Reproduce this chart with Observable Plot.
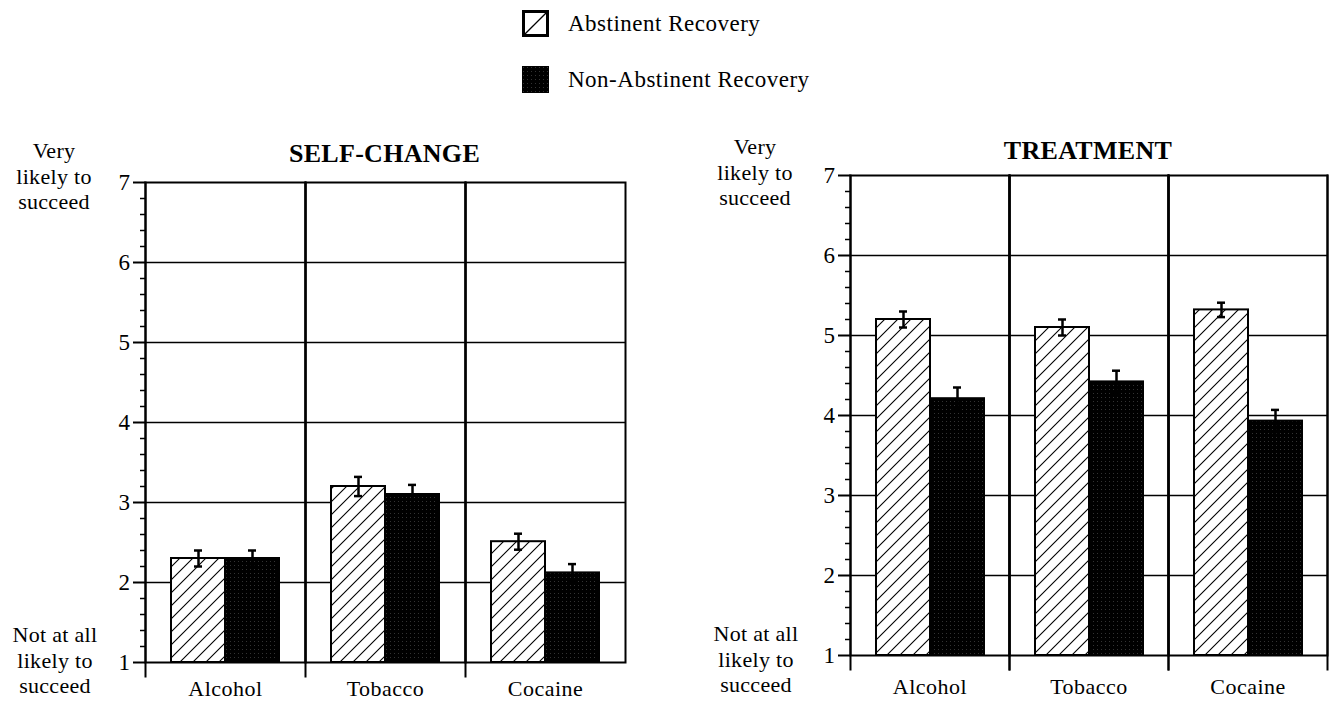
<!DOCTYPE html>
<html><head><meta charset="utf-8">
<script src="https://cdn.jsdelivr.net/npm/d3@7"></script>
<script src="https://cdn.jsdelivr.net/npm/@observablehq/plot@0.6"></script>
<style>
body{margin:0;background:#fff;width:1330px;height:702px;position:relative;overflow:hidden;font-family:"Liberation Serif","Times New Roman",serif;color:#000}
.abs{position:absolute}
.side{position:absolute;width:120px;text-align:center;font-size:22px;line-height:25.5px;letter-spacing:0.3px}
.title{position:absolute;font-size:26px;font-weight:bold;line-height:26px;text-align:center;width:400px;letter-spacing:0.3px}
.legtext{position:absolute;left:568px;font-size:23px;letter-spacing:0.5px;line-height:23px;white-space:nowrap}
</style></head><body>
<svg width="0" height="0" style="position:absolute"><defs>
<pattern id="hatch" patternUnits="userSpaceOnUse" width="13" height="13">
 <rect width="13" height="13" fill="#fff"/>
 <path d="M-2,2 L2,-2 M0,13 L13,0 M11,15 L15,11" stroke="#000" stroke-width="1.1"/>
</pattern>
<pattern id="stipple" patternUnits="userSpaceOnUse" width="4" height="4">
 <rect width="4" height="4" fill="#000"/><rect x="1" y="1" width="1" height="1" fill="#333"/>
</pattern>
<pattern id="hatchLegend" patternUnits="userSpaceOnUse" width="27" height="27">
 <rect width="27" height="27" fill="#fff"/>
 <path d="M0,27 L27,0" stroke="#000" stroke-width="1.3"/>
</pattern>
</defs></svg>

<div id="legend"></div>
<div id="left" class="abs" style="left:0;top:100px"></div>
<div id="right" class="abs" style="left:700px;top:100px"></div>

<div class="title" style="left:184.5px;top:141px">SELF-CHANGE</div>
<div class="title" style="left:888px;top:138px">TREATMENT</div>

<div class="side" style="left:-6px;top:138px">Very<br>likely to<br>succeed</div>
<div class="side" style="left:-5px;top:622px">Not at all<br>likely to<br>succeed</div>
<div class="side" style="left:695px;top:134px">Very<br>likely to<br>succeed</div>
<div class="side" style="left:696px;top:621px">Not at all<br>likely to<br>succeed</div>

<script>
// ---- data ----
const categories = ["Alcohol", "Tobacco", "Cocaine"];
const groups = ["Abstinent Recovery", "Non-Abstinent Recovery"];
const yTicks = [1, 2, 3, 4, 5, 6, 7];
const gridValues = [2, 3, 4, 5, 6];
const minorTicks = [1.2,1.4,1.6,1.8,2.2,2.4,2.6,2.8,3.2,3.4,3.6,3.8,4.2,4.4,4.6,4.8,5.2,5.4,5.6,5.8,6.2,6.4,6.6,6.8];

const selfChangeAbstinent = [2.3, 3.2, 2.51];
const selfChangeNonAbstinent = [2.3, 3.1, 2.12];
const selfChangeAbstinentErr = [0.1, 0.12, 0.1];
const selfChangeNonAbstinentErr = [0.1, 0.12, 0.11];

const treatmentAbstinent = [5.2, 5.1, 5.32];
const treatmentNonAbstinent = [4.21, 4.42, 3.93];
const treatmentAbstinentErr = [0.1, 0.1, 0.09];
const treatmentNonAbstinentErr = [0.14, 0.14, 0.14];

function rows(abst, non, abstErr, nonErr) {
  return categories.flatMap((c, i) => [
    {category: c, group: groups[0], value: abst[i], err: abstErr[i]},
    {category: c, group: groups[1], value: non[i], err: nonErr[i]}
  ]);
}

function panel(data, o) {
  const marks = [
    Plot.ruleY(gridValues, {stroke: "#000", strokeWidth: 1.5}),
    Plot.barY(data, {fx: "category", x: "group", y1: 1, y2: "value", fill: "group", stroke: "#000", strokeWidth: 2}),
    Plot.ruleX(data, {fx: "category", x: "group", y1: d => d.value - d.err, y2: d => d.value + d.err, stroke: "#000", strokeWidth: 2.5}),
    Plot.tickY(data, {fx: "category", x: "group", y: d => d.value + d.err, insetLeft: 23, insetRight: 23, stroke: "#000", strokeWidth: 2.5}),
    Plot.tickY(data, {fx: "category", x: "group", y: d => d.value - d.err, insetLeft: 23, insetRight: 23, stroke: "#000", strokeWidth: 2.5}),
    Plot.frame({stroke: "#000", strokeWidth: 2}),
    Plot.frame({anchor: "left", insetBottom: -14, stroke: "#000", strokeWidth: 2}),
    Plot.axisY({ticks: yTicks, tickSize: 12, tickPadding: 3, fontSize: 23, tickFormat: d => String(d), label: null, stroke: "#000", strokeWidth: 2}),
    Plot.axisY({ticks: minorTicks, tickSize: 5, tickFormat: () => "", label: null, stroke: "#000", strokeWidth: 1.5}),
    Plot.axisFx({anchor: "bottom", tickSize: 0, tickPadding: o.fxPad, fontSize: 22, label: null})
  ];
  if (o.rightExt) marks.push(Plot.frame({anchor: "right", insetBottom: -14, stroke: "#000", strokeWidth: 2}));
  return Plot.plot({
    width: o.width, height: o.height,
    marginLeft: o.ml, marginRight: o.mr, marginTop: o.mt, marginBottom: o.mb,
    style: {fontFamily: "'Liberation Serif', 'Times New Roman', serif", fontSize: "23px", background: "transparent", overflow: "visible", color: "#000", letterSpacing: "0.5px"},
    fx: {domain: categories, padding: 0, label: null, axis: null},
    x: {domain: groups, paddingInner: 0, paddingOuter: 0.46, axis: null},
    y: {domain: [1, 7], axis: null},
    color: {domain: groups, range: ["url(#hatch)", "url(#stipple)"]},
    marks
  });
}

document.getElementById("left").append(panel(
  rows(selfChangeAbstinent, selfChangeNonAbstinent, selfChangeAbstinentErr, selfChangeNonAbstinentErr),
  {width: 640, height: 602, ml: 144, mr: 15, mt: 82, mb: 40, fxPad: 18, rightExt: false}
));
document.getElementById("right").append(panel(
  rows(treatmentAbstinent, treatmentNonAbstinent, treatmentAbstinentErr, treatmentNonAbstinentErr),
  {width: 630, height: 600, ml: 149, mr: 3, mt: 75, mb: 45, fxPad: 23, rightExt: true}
));

// legend
const legend = document.getElementById("legend");
const swatchFills = ["url(#hatchLegend)", "url(#stipple)"];
const swatchTops = [10, 66];
groups.forEach((g, i) => {
  const sw = document.createElementNS("http://www.w3.org/2000/svg", "svg");
  sw.setAttribute("width", 27); sw.setAttribute("height", 27);
  sw.style.position = "absolute"; sw.style.left = "522px"; sw.style.top = swatchTops[i] + "px";
  const r = document.createElementNS("http://www.w3.org/2000/svg", "rect");
  r.setAttribute("width", 27); r.setAttribute("height", 27);
  r.setAttribute("fill", swatchFills[i]);
  if (i === 0) { r.setAttribute("x", 1.5); r.setAttribute("y", 1.5); r.setAttribute("width", 24); r.setAttribute("height", 24); r.setAttribute("stroke", "#000"); r.setAttribute("stroke-width", 3); }
  sw.append(r);
  legend.append(sw);
  const t = document.createElement("div");
  t.className = "legtext";
  t.style.top = (swatchTops[i] + 2) + "px";
  t.textContent = g;
  legend.append(t);
});
</script>
</body></html>
